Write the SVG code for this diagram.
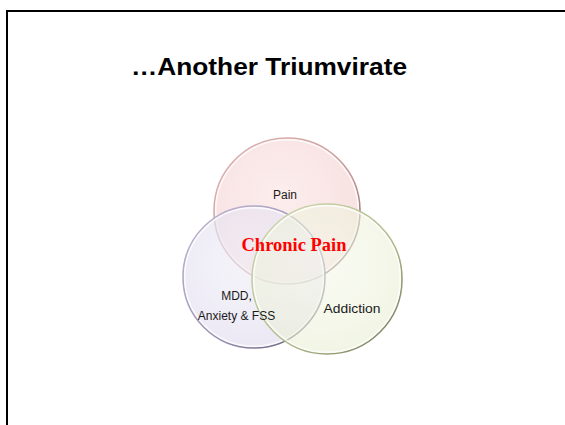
<svg xmlns="http://www.w3.org/2000/svg" width="565" height="425" viewBox="0 0 565 425">
  <style>
    .label { font-family: "Liberation Sans", Arial, sans-serif; font-size: 12px; fill: #1a1a1a; text-anchor: middle; }
    .title { font-family: "Liberation Sans", Arial, sans-serif; font-size: 24px; font-weight: bold; fill: #000; text-anchor: middle; }
    .core { font-family: "Liberation Serif", "Times New Roman", serif; font-size: 19px; font-weight: bold; fill: #ff0000; text-anchor: middle; }
    .rim { fill: none; stroke: #ffffff; stroke-opacity: 0.8; stroke-width: 1.5; }
    .edge { stroke-width: 1.6; }
  </style>
  <defs>
    <radialGradient id="gPink" cx="0.45" cy="0.4" r="0.65">
      <stop offset="0" stop-color="#fce9e9"/>
      <stop offset="1" stop-color="#f5d8d8"/>
    </radialGradient>
    <radialGradient id="gPurple" cx="0.45" cy="0.4" r="0.65">
      <stop offset="0" stop-color="#f0eef7"/>
      <stop offset="1" stop-color="#e0dbee"/>
    </radialGradient>
    <radialGradient id="gGreen" cx="0.45" cy="0.4" r="0.65">
      <stop offset="0" stop-color="#f6f9ec"/>
      <stop offset="1" stop-color="#e8eed2"/>
    </radialGradient>
    <!-- bevelled edges: light at upper left, darker toward lower right -->
    <linearGradient id="sPink" x1="0" y1="0" x2="1" y2="1">
      <stop offset="0" stop-color="#e2b6b6"/>
      <stop offset="0.6" stop-color="#c79a9a"/>
      <stop offset="1" stop-color="#6e5a5a"/>
    </linearGradient>
    <linearGradient id="sPurple" x1="0" y1="0" x2="1" y2="1">
      <stop offset="0" stop-color="#c1b9d6"/>
      <stop offset="0.6" stop-color="#9a91b2"/>
      <stop offset="1" stop-color="#5e5870"/>
    </linearGradient>
    <linearGradient id="sGreen" x1="0" y1="0" x2="1" y2="1">
      <stop offset="0" stop-color="#d3dbb3"/>
      <stop offset="0.6" stop-color="#b0bb8c"/>
      <stop offset="1" stop-color="#6c7258"/>
    </linearGradient>
  </defs>

  <rect x="0" y="0" width="565" height="425" fill="#ffffff"/>
  <!-- slide frame: left and top edges -->
  <path d="M7,425 V11 H565" fill="none" stroke="#000" stroke-width="2"/>

  <text class="title" x="269" y="75" textLength="276" lengthAdjust="spacingAndGlyphs">…Another Triumvirate</text>

  <g id="pain">
    <circle class="edge" cx="287" cy="211" r="73" fill="url(#gPink)" fill-opacity="0.8" stroke="url(#sPink)"/>
    <circle class="rim" cx="287" cy="211" r="71.3"/>
  </g>
  <g id="mdd">
    <circle class="edge" cx="254" cy="277" r="71" fill="url(#gPurple)" fill-opacity="0.65" stroke="url(#sPurple)"/>
    <circle class="rim" cx="254" cy="277" r="69.3"/>
  </g>
  <g id="addiction">
    <circle class="edge" cx="327" cy="279" r="75" fill="url(#gGreen)" fill-opacity="0.6" stroke="url(#sGreen)"/>
    <circle class="rim" cx="327" cy="279" r="73.3"/>
  </g>

  <g id="labels">
    <text class="label" x="285" y="199">Pain</text>
    <text class="label" x="236.5" y="300">MDD,</text>
    <text class="label" x="236.5" y="320">Anxiety &amp; FSS</text>
    <text class="label" x="352" y="313" font-size="13" textLength="57" lengthAdjust="spacingAndGlyphs">Addiction</text>
    <text class="core" x="294" y="251" textLength="105" lengthAdjust="spacingAndGlyphs">Chronic Pain</text>
  </g>
</svg>
